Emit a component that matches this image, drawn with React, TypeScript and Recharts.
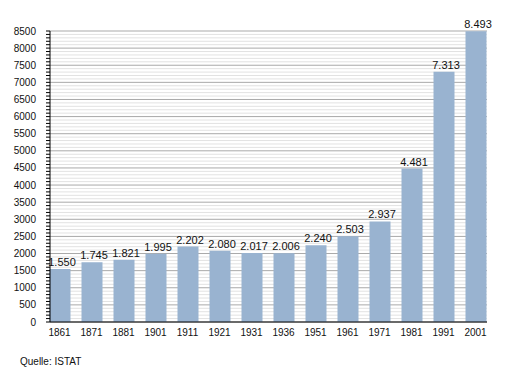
import React from 'react';
import { BarChart, Bar, XAxis, YAxis, CartesianGrid, LabelList } from 'recharts';

const years = ['1861', '1871', '1881', '1901', '1911', '1921', '1931', '1936', '1951', '1961', '1971', '1981', '1991', '2001'];
const population = [1550, 1745, 1821, 1995, 2202, 2080, 2017, 2006, 2240, 2503, 2937, 4481, 7313, 8493];
const yTicks = Array.from({ length: 86 }, (_, i) => i * 100);
const sourceText = 'Quelle: ISTAT';

const data = years.map((y, i) => ({ year: y, value: population[i] }));

const FONT = '"Liberation Sans", Arial, sans-serif';

const fmt = (v: number) => {
  const s = String(v);
  return s.length > 3 ? s.slice(0, s.length - 3) + '.' + s.slice(s.length - 3) : s;
};

const YTick = (props: any) => {
  const { x, y, payload } = props;
  if (payload.value % 500 !== 0) return null;
  return (
    <text x={x} y={y} dy="0.355em" textAnchor="end" fontSize={10} fill="#111" fontFamily={FONT}>
      {payload.value}
    </text>
  );
};

const renderLabel = (props: any) => {
  const { x, y, width, value } = props;
  return (
    <text x={x + width / 2 + 2} y={y - 3} textAnchor="middle" fontSize={11} fill="#111" fontFamily={FONT}>
      {fmt(value)}
    </text>
  );
};

const gridLine = (props: any) => {
  const { x1, x2, y1, y2, index } = props;
  const major = index % 5 === 0;
  return (
    <line
      key={`g-${index}`}
      x1={x1}
      x2={x2}
      y1={y1}
      y2={y2}
      stroke={major ? '#a9a9a9' : '#e2e2e2'}
      strokeWidth={1}
    />
  );
};

export default function App() {
  return (
    <div style={{ position: 'absolute', left: 0, top: 0, width: 515, height: 373, background: '#fff', fontFamily: FONT }}>
      <BarChart width={515} height={373} data={data} margin={{ top: 31, right: 28, bottom: 21, left: 0 }}>
        <CartesianGrid vertical={false} horizontal={gridLine} />
        <XAxis
          dataKey="year"
          height={30}
          tickLine={false}
          tickSize={0}
          tickMargin={7}
          padding={{ left: -6.5, right: -4.5 }}
          axisLine={{ stroke: '#000' }}
          tick={{ fontSize: 10, fill: '#111', fontFamily: FONT }}
          interval={0}
        />
        <YAxis
          width={50}
          domain={[0, 8500]}
          ticks={yTicks}
          interval={0}
          tickSize={4}
          tickMargin={10}
          axisLine={{ stroke: '#000' }}
          tickLine={{ stroke: '#000' }}
          tick={<YTick />}
        />
        <Bar dataKey="value" fill="#99b3d0" barSize={21} isAnimationActive={false}>
          <LabelList dataKey="value" content={renderLabel} />
        </Bar>
      </BarChart>
      <div style={{ position: 'absolute', left: 20, top: 356, fontSize: 10, lineHeight: '12px', color: '#111', whiteSpace: 'nowrap' }}>
        {sourceText}
      </div>
    </div>
  );
}
